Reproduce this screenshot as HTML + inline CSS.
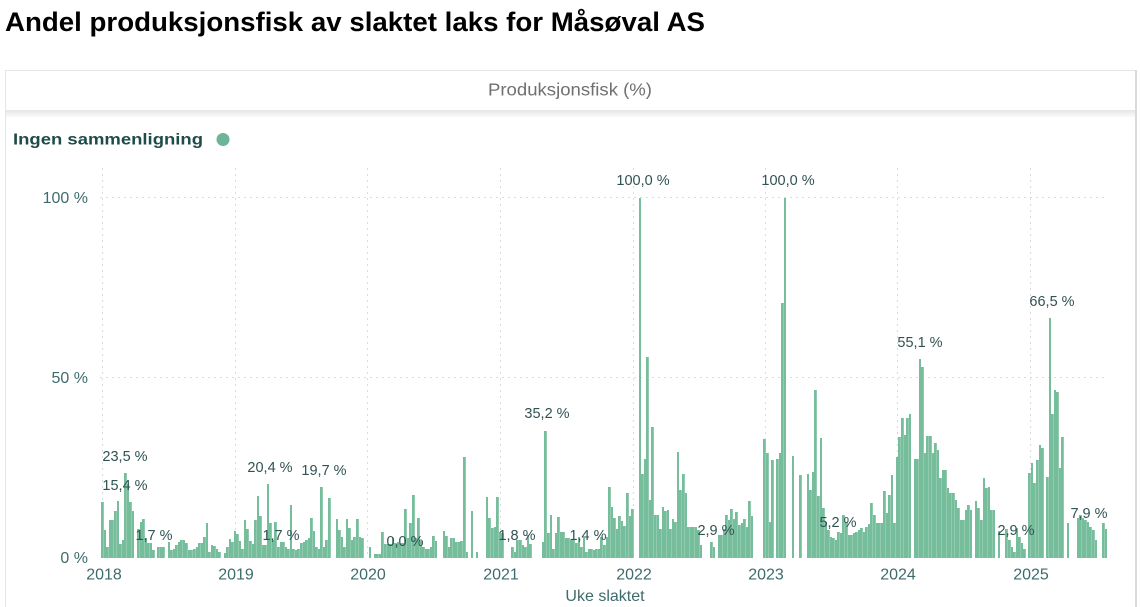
<!DOCTYPE html>
<html><head><meta charset="utf-8">
<style>
html,body{margin:0;padding:0;background:#fff;}
body{width:1140px;height:607px;position:relative;overflow:hidden;font-family:"Liberation Sans",Arial,sans-serif;}
svg{position:absolute;left:0;top:0;}
#bg{z-index:0}
#fg{z-index:2}
.bars{position:absolute;left:101.3px;top:197.5px;width:1007.8px;height:360px;display:flex;align-items:flex-end;z-index:1;}
.bars i{flex:1 1 0;min-width:0;display:block;background:linear-gradient(90deg,#76bd9c 0,#76bd9c 88%,#acd7c2 88%,#acd7c2 100%);}
</style></head><body>
<svg id="bg" width="1140" height="607" viewBox="0 0 1140 607">
<defs>
<linearGradient id="sh" x1="0" y1="0" x2="0" y2="1">
<stop offset="0" stop-color="#e4e4e4"/><stop offset="1" stop-color="#ffffff"/>
</linearGradient>
</defs>
<text x="5" y="31" font-family="Liberation Sans, Arial, sans-serif" font-weight="bold" font-size="27" fill="#000" textLength="700" lengthAdjust="spacingAndGlyphs">Andel produksjonsfisk av slaktet laks for Måsøval AS</text>
<rect x="5.5" y="70.5" width="1130" height="545" fill="#fff" stroke="#e6e6e6" stroke-width="1"/>
<line x1="1136" y1="70" x2="1136" y2="607" stroke="#d9d9d9" stroke-width="2"/>
<rect x="6" y="110" width="1129" height="8" fill="url(#sh)"/>
<text x="570" y="95.5" text-anchor="middle" font-family="Liberation Sans, Arial, sans-serif" font-size="17.5" fill="#707070" textLength="164" lengthAdjust="spacingAndGlyphs">Produksjonsfisk (%)</text>
<text x="13" y="144.5" font-family="Liberation Sans, Arial, sans-serif" font-weight="bold" font-size="15.5" fill="#1f4b4b" textLength="190" lengthAdjust="spacingAndGlyphs">Ingen sammenligning</text>
<circle cx="223" cy="139.5" r="6.5" fill="#6cb598"/>
<g stroke="#dcdcdc" stroke-width="1" stroke-dasharray="2,4">
<line x1="100" y1="197.5" x2="1108" y2="197.5"/>
<line x1="100" y1="377.5" x2="1108" y2="377.5"/>
<line x1="102.5" y1="168" x2="102.5" y2="557"/>
<line x1="235.5" y1="168" x2="235.5" y2="557"/>
<line x1="367.5" y1="168" x2="367.5" y2="557"/>
<line x1="500.5" y1="168" x2="500.5" y2="557"/>
<line x1="633.5" y1="168" x2="633.5" y2="557"/>
<line x1="765.5" y1="168" x2="765.5" y2="557"/>
<line x1="897.5" y1="168" x2="897.5" y2="557"/>
<line x1="1030.5" y1="168" x2="1030.5" y2="557"/>
</g>
<g font-family="Liberation Sans, Arial, sans-serif" font-size="16" fill="#3e6b6b">
<text x="88" y="203" text-anchor="end">100 %</text>
<text x="88" y="383" text-anchor="end">50 %</text>
<text x="88" y="563" text-anchor="end">0 %</text>
<text x="104" y="579.5" text-anchor="middle">2018</text>
<text x="236" y="579.5" text-anchor="middle">2019</text>
<text x="368" y="579.5" text-anchor="middle">2020</text>
<text x="501" y="579.5" text-anchor="middle">2021</text>
<text x="634" y="579.5" text-anchor="middle">2022</text>
<text x="766" y="579.5" text-anchor="middle">2023</text>
<text x="898" y="579.5" text-anchor="middle">2024</text>
<text x="1031" y="579.5" text-anchor="middle">2025</text>
<text x="605" y="601" text-anchor="middle">Uke slaktet</text>
</g>
</svg>
<div class="bars">
<i style="height:15.5%"></i><i style="height:7.6%"></i><i style="height:3%"></i><i style="height:10.4%"></i><i style="height:10.4%"></i><i style="height:13%"></i><i style="height:15.6%"></i><i style="height:3.7%"></i><i style="height:4.8%"></i><i style="height:23.5%"></i><i style="height:20.5%"></i><i style="height:15.5%"></i><i style="height:13%"></i><i></i><i style="height:8%"></i><i style="height:9.9%"></i><i style="height:10.6%"></i><i style="height:5.3%"></i><i style="height:4%"></i><i style="height:4%"></i><i style="height:2%"></i><i></i><i style="height:3%"></i><i style="height:2.8%"></i><i style="height:3%"></i><i></i><i style="height:4.4%"></i><i style="height:2%"></i><i style="height:2.5%"></i><i style="height:3.4%"></i><i style="height:4.4%"></i><i style="height:5%"></i><i style="height:5%"></i><i style="height:3.9%"></i><i style="height:2%"></i><i style="height:2.2%"></i><i style="height:2.5%"></i><i style="height:3%"></i><i style="height:4%"></i><i style="height:3.9%"></i><i style="height:5.7%"></i><i style="height:9.6%"></i><i style="height:1.6%"></i><i style="height:3.4%"></i><i style="height:3.1%"></i><i style="height:2.5%"></i><i style="height:1.6%"></i><i></i><i style="height:1.3%"></i><i style="height:3%"></i><i style="height:5.2%"></i><i style="height:4.4%"></i>
<i style="height:7.4%"></i><i style="height:6.5%"></i><i style="height:4.5%"></i><i style="height:2.5%"></i><i style="height:10.5%"></i><i style="height:8%"></i><i style="height:4.5%"></i><i style="height:3.7%"></i><i style="height:10.5%"></i><i style="height:17%"></i><i style="height:11.5%"></i><i style="height:3.5%"></i><i style="height:3.5%"></i><i style="height:20.4%"></i><i style="height:9.5%"></i><i style="height:5%"></i><i style="height:10%"></i><i style="height:2.8%"></i><i style="height:4.2%"></i><i style="height:4.2%"></i><i style="height:3%"></i><i style="height:2.5%"></i><i style="height:14.6%"></i><i style="height:2.5%"></i><i style="height:2%"></i><i style="height:2.5%"></i><i style="height:4%"></i><i style="height:4.2%"></i><i style="height:5%"></i><i style="height:5.5%"></i><i style="height:10.9%"></i><i style="height:7.4%"></i><i style="height:3%"></i><i style="height:2.5%"></i><i style="height:19.7%"></i><i style="height:3%"></i><i style="height:4.8%"></i><i style="height:16.4%"></i><i></i><i></i><i style="height:10.6%"></i><i style="height:7.6%"></i><i style="height:5.7%"></i><i style="height:2.8%"></i><i style="height:10.6%"></i><i style="height:8.3%"></i><i style="height:4.8%"></i><i style="height:5.7%"></i><i style="height:10.6%"></i><i style="height:5.7%"></i><i style="height:5.5%"></i><i></i>
<i></i><i style="height:2.8%"></i><i></i><i style="height:1%"></i><i style="height:1%"></i><i style="height:1%"></i><i style="height:7.2%"></i><i style="height:3.7%"></i><i style="height:3.7%"></i><i style="height:3.7%"></i><i style="height:5.5%"></i><i style="height:4%"></i><i style="height:4.2%"></i><i style="height:4%"></i><i style="height:4%"></i><i style="height:13.4%"></i><i style="height:5.5%"></i><i style="height:9.7%"></i><i style="height:17.4%"></i><i style="height:5.5%"></i><i style="height:11%"></i><i style="height:4.6%"></i><i style="height:2.8%"></i><i style="height:2.3%"></i><i style="height:2.3%"></i><i style="height:2.8%"></i><i style="height:6%"></i><i style="height:4.6%"></i><i></i><i></i><i style="height:7.4%"></i><i style="height:6%"></i><i style="height:2.8%"></i><i style="height:5.5%"></i><i style="height:5.5%"></i><i style="height:4.2%"></i><i style="height:4.2%"></i><i style="height:4.6%"></i><i style="height:27.8%"></i><i style="height:1.4%"></i><i></i><i style="height:13%"></i><i></i><i style="height:1.4%"></i><i></i><i></i><i></i><i style="height:16.8%"></i><i style="height:11%"></i><i style="height:8.3%"></i><i style="height:8.5%"></i><i style="height:16.8%"></i>
<i style="height:7.1%"></i><i style="height:6.7%"></i><i></i><i></i><i></i><i style="height:3%"></i><i style="height:1.6%"></i><i style="height:4.8%"></i><i style="height:4.8%"></i><i style="height:3.4%"></i><i style="height:3%"></i><i style="height:6.2%"></i><i style="height:3.7%"></i><i></i><i></i><i></i><i></i><i style="height:4.4%"></i><i style="height:35.2%"></i><i style="height:6.7%"></i><i style="height:11.8%"></i><i style="height:2.5%"></i><i style="height:6.9%"></i><i style="height:11.3%"></i><i style="height:7.1%"></i><i style="height:7.1%"></i><i style="height:5.3%"></i><i style="height:5.5%"></i><i style="height:4.8%"></i><i style="height:4.8%"></i><i style="height:4.1%"></i><i style="height:5.7%"></i><i style="height:3%"></i><i style="height:5.3%"></i><i style="height:1.6%"></i><i style="height:2.5%"></i><i style="height:2.5%"></i><i style="height:2%"></i><i style="height:2.5%"></i><i style="height:2.3%"></i><i style="height:5.7%"></i><i style="height:3.4%"></i><i style="height:5.7%"></i><i style="height:19.7%"></i><i style="height:14%"></i><i style="height:11.1%"></i><i style="height:7.9%"></i><i style="height:11.6%"></i><i style="height:10.2%"></i><i style="height:8.8%"></i><i style="height:18%"></i><i style="height:11.6%"></i>
<i style="height:13.6%"></i><i></i><i></i><i style="height:100%"></i><i style="height:23.3%"></i><i style="height:27.5%"></i><i style="height:55.7%"></i><i style="height:15.9%"></i><i style="height:36.3%"></i><i style="height:11.8%"></i><i style="height:11.8%"></i><i style="height:8%"></i><i style="height:14%"></i><i style="height:13%"></i><i style="height:13.3%"></i><i style="height:7.8%"></i><i style="height:10.8%"></i><i style="height:9.9%"></i><i style="height:29.4%"></i><i style="height:18.7%"></i><i style="height:23.3%"></i><i style="height:17.8%"></i><i style="height:8.5%"></i><i style="height:8.5%"></i><i style="height:8.5%"></i><i style="height:8.5%"></i><i style="height:7.6%"></i><i style="height:3.4%"></i><i></i><i></i><i></i><i style="height:4.4%"></i><i style="height:3%"></i><i></i><i style="height:6.2%"></i><i style="height:6.2%"></i><i style="height:8%"></i><i style="height:11.8%"></i><i style="height:10.4%"></i><i style="height:13.6%"></i><i style="height:10.8%"></i><i style="height:12.7%"></i><i style="height:9%"></i><i style="height:9.6%"></i><i style="height:10.8%"></i><i style="height:8.5%"></i><i style="height:15.7%"></i><i style="height:11.5%"></i><i></i><i></i><i></i><i></i>
<i style="height:33%"></i><i style="height:29%"></i><i style="height:9.9%"></i><i style="height:27%"></i><i></i><i style="height:27.5%"></i><i style="height:28.9%"></i><i style="height:70.6%"></i><i style="height:100%"></i><i></i><i></i><i style="height:28.1%"></i><i></i><i></i><i style="height:22.9%"></i><i></i><i></i><i style="height:23.3%"></i><i style="height:18.7%"></i><i style="height:23.8%"></i><i style="height:46.5%"></i><i style="height:17%"></i><i style="height:33.1%"></i><i style="height:13.7%"></i><i style="height:10%"></i><i style="height:7.6%"></i><i style="height:5.8%"></i><i style="height:5.3%"></i><i style="height:4.9%"></i><i style="height:7.2%"></i><i style="height:6.7%"></i><i style="height:11.8%"></i><i style="height:10%"></i><i style="height:6.2%"></i><i style="height:6.2%"></i><i style="height:6.7%"></i><i style="height:7.2%"></i><i style="height:7.6%"></i><i style="height:8.1%"></i><i style="height:7.2%"></i><i style="height:8.6%"></i><i style="height:9.3%"></i><i style="height:15.2%"></i><i style="height:11.8%"></i><i style="height:9.5%"></i><i style="height:9.5%"></i><i style="height:9.5%"></i><i style="height:18.6%"></i><i style="height:12.3%"></i><i style="height:17.4%"></i><i style="height:22.9%"></i><i style="height:9.7%"></i>
<i style="height:28%"></i><i style="height:33.6%"></i><i style="height:38.7%"></i><i style="height:34%"></i><i style="height:38.7%"></i><i style="height:40%"></i><i></i><i style="height:27.5%"></i><i style="height:27.5%"></i><i style="height:55.1%"></i><i style="height:53%"></i><i style="height:29%"></i><i style="height:33.8%"></i><i style="height:33.8%"></i><i style="height:29%"></i><i style="height:31.7%"></i><i style="height:30%"></i><i style="height:22%"></i><i style="height:24.3%"></i><i style="height:24.3%"></i><i style="height:19.2%"></i><i style="height:17.8%"></i><i style="height:17.8%"></i><i style="height:16%"></i><i style="height:13.7%"></i><i style="height:10.4%"></i><i style="height:10.4%"></i><i style="height:13.2%"></i><i style="height:14.6%"></i><i style="height:13.2%"></i><i></i><i style="height:15.8%"></i><i style="height:13.7%"></i><i style="height:10.4%"></i><i style="height:22%"></i><i style="height:19.2%"></i><i style="height:19.7%"></i><i style="height:13.2%"></i><i style="height:13.2%"></i><i></i><i style="height:7.5%"></i><i></i><i></i><i style="height:8%"></i><i style="height:5%"></i><i style="height:3%"></i><i style="height:1.5%"></i><i style="height:8.1%"></i><i style="height:5.6%"></i><i style="height:3.9%"></i><i style="height:2.5%"></i><i></i>
<i style="height:23.4%"></i><i style="height:26.2%"></i><i style="height:20.6%"></i><i style="height:27%"></i><i style="height:31.2%"></i><i style="height:30.3%"></i><i></i><i style="height:22.4%"></i><i style="height:66.5%"></i><i style="height:40%"></i><i style="height:46.5%"></i><i style="height:46%"></i><i style="height:24.8%"></i><i style="height:33.6%"></i><i></i><i style="height:9.5%"></i><i></i><i></i><i></i><i style="height:10.9%"></i><i style="height:11.8%"></i><i style="height:10.9%"></i><i style="height:10.4%"></i><i style="height:10%"></i><i style="height:8.6%"></i><i style="height:7.6%"></i><i style="height:5%"></i><i></i><i></i><i style="height:9.5%"></i><i style="height:7.9%"></i>
</div>
<svg id="fg" width="1140" height="607" viewBox="0 0 1140 607">
<g font-family="Liberation Sans, Arial, sans-serif" font-size="14.5" fill="#2f5252" text-anchor="middle">
<text x="125" y="461">23,5 %</text>
<text x="125" y="490">15,4 %</text>
<text x="154" y="540">1,7 %</text>
<text x="270" y="472">20,4 %</text>
<text x="281" y="540">1,7 %</text>
<text x="324" y="475">19,7 %</text>
<text x="405" y="546">0,0 %</text>
<text x="517" y="540">1,8 %</text>
<text x="547" y="418">35,2 %</text>
<text x="588" y="540">1,4 %</text>
<text x="643" y="185">100,0 %</text>
<text x="716" y="535">2,9 %</text>
<text x="788" y="185">100,0 %</text>
<text x="838" y="527">5,2 %</text>
<text x="920" y="347">55,1 %</text>
<text x="1016" y="535">2,9 %</text>
<text x="1052" y="306">66,5 %</text>
<text x="1089" y="518">7,9 %</text>
</g>
</svg>
</body></html>
